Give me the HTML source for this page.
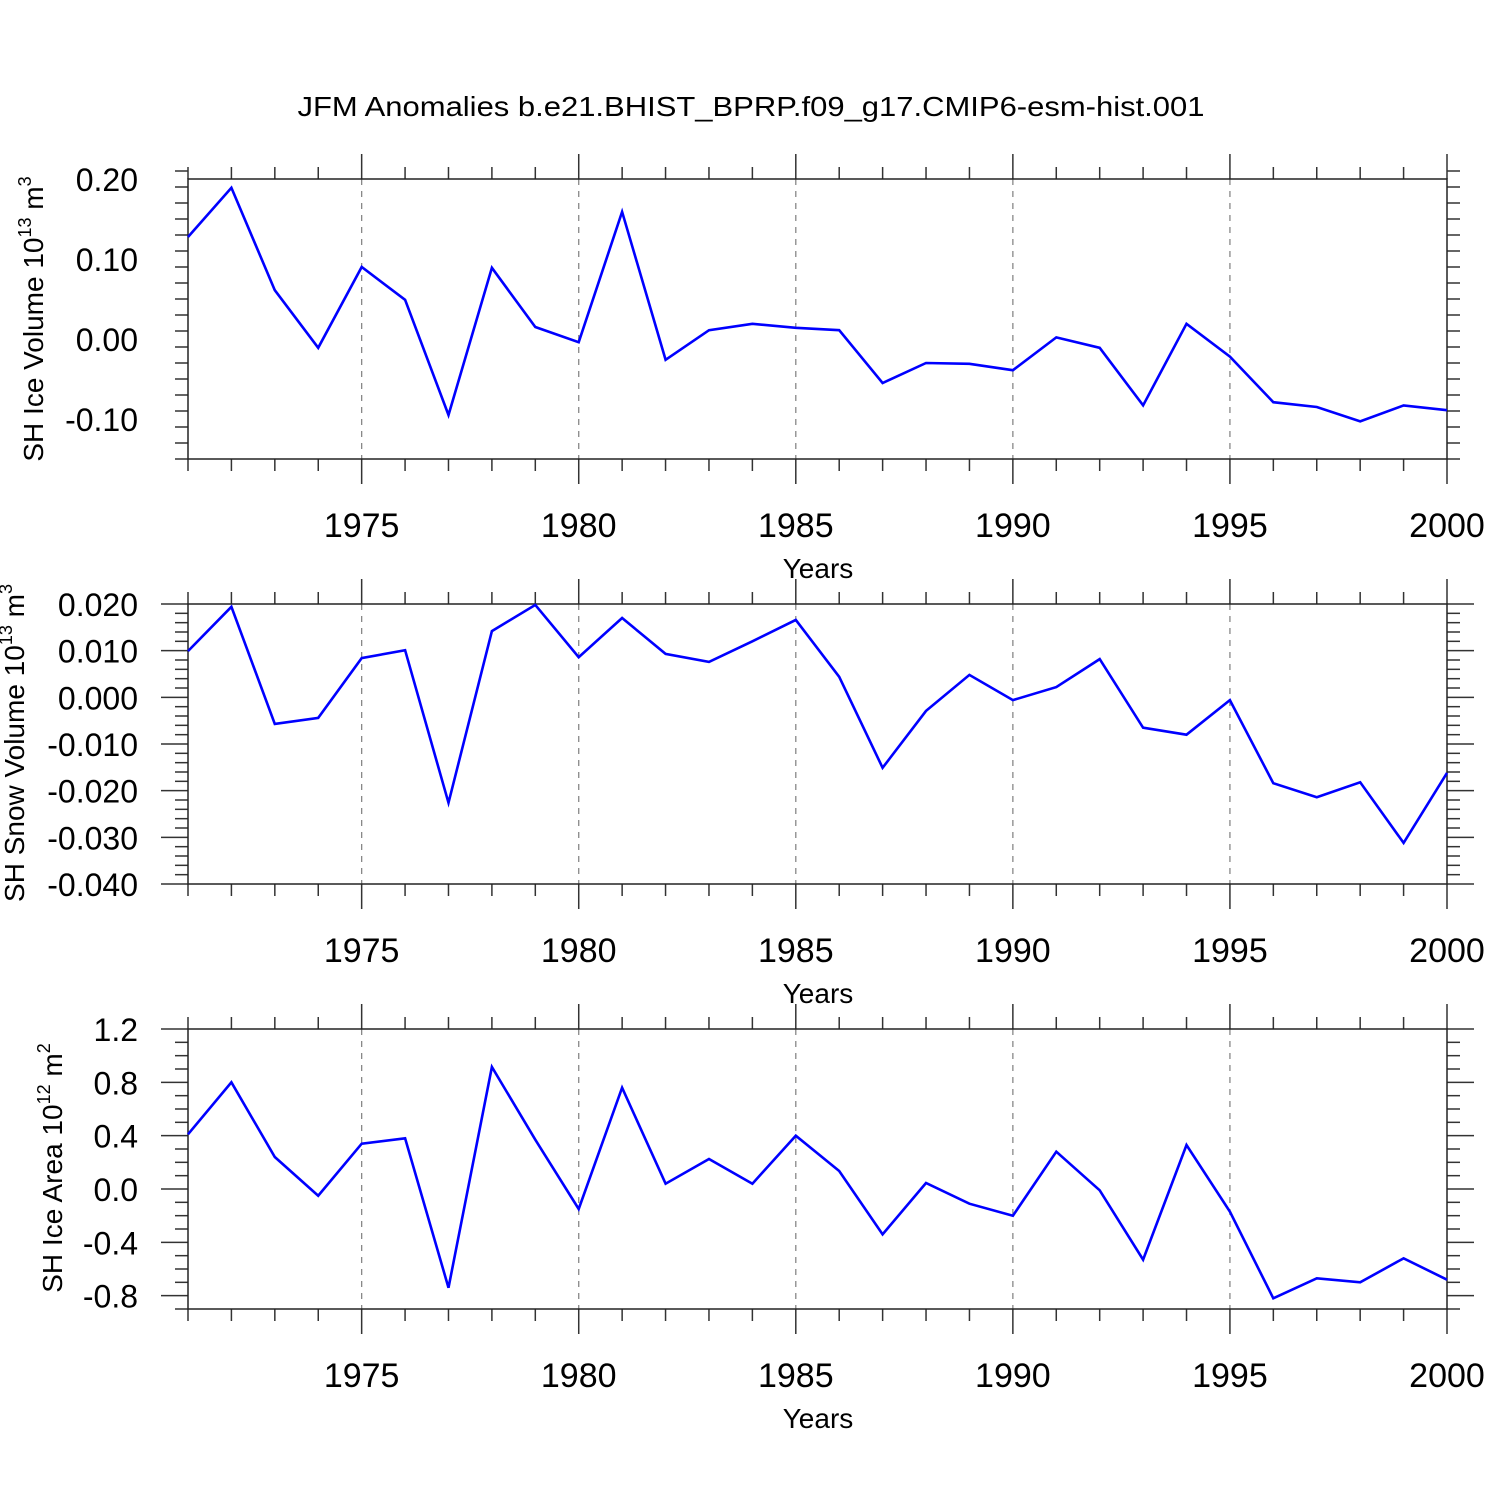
<!DOCTYPE html>
<html><head><meta charset="utf-8"><style>
html,body{margin:0;padding:0;background:#fff}
svg{display:block;font-family:"Liberation Sans",Arial,sans-serif}
</style></head><body>
<svg id="chart" width="1500" height="1500" viewBox="0 0 1500 1500" xmlns="http://www.w3.org/2000/svg">
<text x="751" y="116" font-size="28" text-anchor="middle" textLength="907" lengthAdjust="spacingAndGlyphs">JFM Anomalies b.e21.BHIST_BPRP.f09_g17.CMIP6-esm-hist.001</text>
</svg>
<script>
const years = [];
for (let y = 1971; y <= 2000; y++) years.push(y);
const xTickYears = [1975, 1980, 1985, 1990, 1995, 2000];
const iceVolume = [0.1275,0.189,0.061,-0.011,0.09,0.049,-0.095,0.089,0.015,-0.004,0.159,-0.026,0.011,0.019,0.014,0.011,-0.055,-0.030,-0.031,-0.039,0.002,-0.011,-0.083,0.019,-0.022,-0.079,-0.085,-0.103,-0.083,-0.089];
const snowVolume = [0.0099,0.0194,-0.0057,-0.0044,0.0084,0.0101,-0.0226,0.0142,0.0198,0.0086,0.017,0.0093,0.0076,0.012,0.0166,0.0044,-0.0151,-0.0029,0.0048,-0.0006,0.0022,0.0082,-0.0065,-0.0080,-0.0006,-0.0184,-0.0214,-0.0182,-0.0312,-0.0162];
const iceArea = [0.41,0.80,0.24,-0.05,0.34,0.38,-0.74,0.915,0.37,-0.15,0.76,0.04,0.225,0.04,0.40,0.135,-0.34,0.045,-0.11,-0.20,0.28,-0.01,-0.53,0.33,-0.17,-0.82,-0.67,-0.70,-0.52,-0.68];
const yTicks1 = ["0.20","0.10","0.00","-0.10"];
const yTicks2 = ["0.020","0.010","0.000","-0.010","-0.020","-0.030","-0.040"];
const yTicks3 = ["1.2","0.8","0.4","0.0","-0.4","-0.8"];

const NS = "http://www.w3.org/2000/svg";
const svg = document.getElementById('chart');
function mk(tag, attrs, parent) {
  const e = document.createElementNS(NS, tag);
  for (const k in attrs) e.setAttribute(k, attrs[k]);
  (parent || svg).appendChild(e);
  return e;
}
const X0 = 188, X1 = 1447;
function xScale(yr) { return X0 + (yr - 1971) / (2000 - 1971) * (X1 - X0); }

const panels = [
  {name:'ice-volume', top:179, ymin:-0.15, ymax:0.20, data:iceVolume, ticks:yTicks1, minor:0.02, title:'SH Ice Volume 10', exp:'13', unit:' m', uexp:'3', tx:43, tyc:319},
  {name:'snow-volume', top:604, ymin:-0.040, ymax:0.020, data:snowVolume, ticks:yTicks2, minor:0.002, title:'SH Snow Volume 10', exp:'13', unit:' m', uexp:'3', tx:24, tyc:743},
  {name:'ice-area', top:1029, ymin:-0.9, ymax:1.2, data:iceArea, ticks:yTicks3, minor:0.1, title:'SH Ice Area 10', exp:'12', unit:' m', uexp:'2', tx:62, tyc:1168}
];

panels.forEach(p => {
  const H = 280, top = p.top, bot = top + H;
  const g = mk('g', {});
  
  
  const yScale = v => bot - (v - p.ymin) / (p.ymax - p.ymin) * H;
  // gridlines
  xTickYears.forEach(yr => {
    if (yr === 2000) return;
    const l = mk('line', {x1:xScale(yr), x2:xScale(yr), y1:top, y2:bot, stroke:'#888', 'stroke-width':1.3, 'stroke-dasharray':'6,6'}, g);
    
    
  });
  // x ticks
  years.forEach(yr => {
    const major = xTickYears.includes(yr);
    const len = major ? 25 : 12;
    const x = xScale(yr);
    mk('line', {x1:x, x2:x, y1:top, y2:top-len, stroke:'#333', 'stroke-width':1.5}, g);
    mk('line', {x1:x, x2:x, y1:bot, y2:bot+len, stroke:'#333', 'stroke-width':1.5}, g);
  });
  // y ticks
  const nMin = Math.round((p.ymax - p.ymin) / p.minor);
  for (let i = 0; i <= nMin; i++) {
    const v = p.ymin + i * p.minor;
    const y = yScale(v);
    const isMajor = p.ticks.some(t => Math.abs(parseFloat(t) - v) < p.minor / 10);
    const len = isMajor ? 27 : 13;
    mk('line', {x1:X0, x2:X0-len, y1:y, y2:y, stroke:'#333', 'stroke-width':1.5}, g);
    mk('line', {x1:X1, x2:X1+len, y1:y, y2:y, stroke:'#333', 'stroke-width':1.5}, g);
  }
  // frame
  const fr = mk('rect', {x:X0, y:top, width:X1-X0, height:H, fill:'none', stroke:'#222', 'stroke-width':1.5}, g);
  
  
  // y labels
  p.ticks.forEach(t => {
    const tt = mk('text', {x:138, y:yScale(parseFloat(t)) + 12, 'font-size':32, 'text-anchor':'end'}, g);
    tt.textContent = t;
    
    
  });
  // x labels
  xTickYears.forEach(yr => {
    const tt = mk('text', {x:xScale(yr), y:bot + 78, 'font-size':34, 'text-anchor':'middle'}, g);
    tt.textContent = yr;
    
    
  });
  const xt = mk('text', {x:818, y:bot + 119, 'font-size':28, 'text-anchor':'middle'}, g);
  xt.textContent = 'Years';
  
  
  // y title
  const yt = mk('text', {x:0, y:0, 'font-size':28, 'text-anchor':'middle', transform:`translate(${p.tx},${p.tyc}) rotate(-90)`}, g);
  
  
  const s1 = mk('tspan', {}, yt); s1.textContent = p.title;
  const s2 = mk('tspan', {dy:-12, 'font-size':18}, yt); s2.textContent = p.exp;
  const s3 = mk('tspan', {dy:12}, yt); s3.textContent = p.unit;
  const s4 = mk('tspan', {dy:-12, 'font-size':18}, yt); s4.textContent = p.uexp;
  // series
  const pts = p.data.map((v, i) => xScale(years[i]).toFixed(1) + ',' + yScale(v).toFixed(1)).join(' ');
  const pl = mk('polyline', {points:pts, fill:'none', stroke:'#0000ff', 'stroke-width':2.6, 'stroke-linejoin':'miter'}, g);
  
  
});
</script>
</body></html>
